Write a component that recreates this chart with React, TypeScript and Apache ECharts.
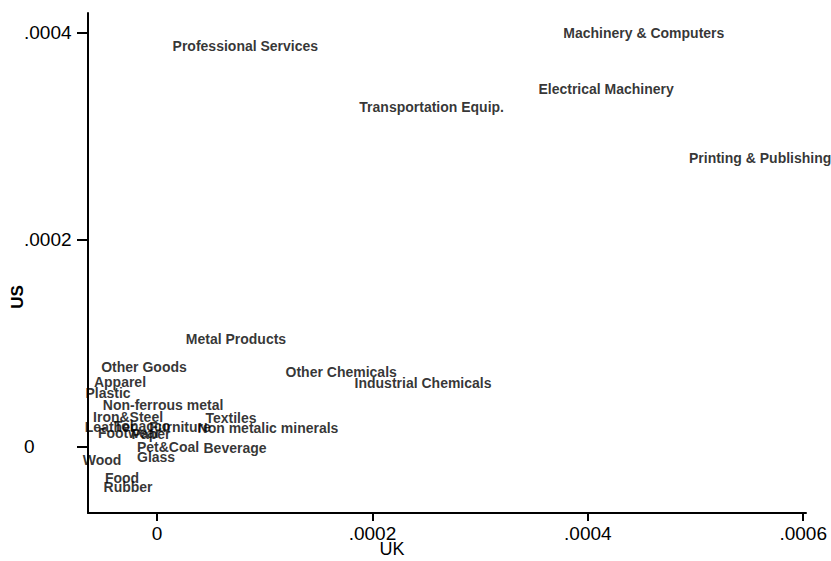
import React, { useEffect, useRef } from "react";
import * as echarts from "echarts";

const industries = [
  "Professional Services",
  "Machinery & Computers",
  "Electrical Machinery",
  "Transportation Equip.",
  "Printing & Publishing",
  "Metal Products",
  "Other Goods",
  "Other Chemicals",
  "Industrial Chemicals",
  "Apparel",
  "Plastic",
  "Non-ferrous metal",
  "Iron&Steel",
  "Textiles",
  "Leather",
  "Tobacco",
  "Furniture",
  "Non metalic minerals",
  "Footwear",
  "Paper",
  "Pet&Coal",
  "Beverage",
  "Glass",
  "Wood",
  "Food",
  "Rubber",
];

const ukValues = [
  0.000082, 0.000452, 0.000417, 0.000255, 0.00056, 0.0000733, -0.0000121,
  0.000171, 0.000247, -0.0000344, -0.0000455, 0.0000056, -0.0000269,
  0.0000687, -0.0000436, -0.0000139, 0.0000214, 0.000103, -0.000026,
  -0.0000056, 0.0000102, 0.0000724, -0.0000009, -0.0000511, -0.0000325,
  -0.0000269,
];

const usValues = [
  0.000387, 0.0004, 0.000346, 0.000328, 0.000279, 0.000104, 0.0000773,
  0.0000725, 0.0000618, 0.0000628, 0.0000522, 0.0000406, 0.000029, 0.000028,
  0.0000193, 0.0000203, 0.0000193, 0.0000184, 0.0000135, 0.0000126, 0.0,
  -0.000001, -0.0000097, -0.0000126, -0.00003, -0.0000386,
];

const xTicks = [0, 0.0002, 0.0004, 0.0006];
const yTicks = [0, 0.0002, 0.0004];

const FONT = "'Liberation Sans', Arial, Helvetica, sans-serif";

const fmt = (v: number) => (v === 0 ? "0" : v.toFixed(4).replace(/^0/, ""));

export default function App() {
  const ref = useRef<HTMLDivElement>(null);
  useEffect(() => {
    if (!ref.current) return;
    const chart = echarts.init(ref.current, undefined, { renderer: "svg" });
    const data = industries.map((n, i) => ({ name: n, value: [ukValues[i], usValues[i]] }));
    chart.setOption({
      animation: false,
      backgroundColor: "#ffffff",
      grid: {
        left: 88,
        right: 25,
        top: 13,
        bottom: 48,
        containLabel: false,
        outerBoundsMode: "none",
      },
      xAxis: {
        type: "value",
        min: -0.0000641,
        max: 0.0006026,
        name: "UK",
        nameLocation: "middle",
        nameGap: 27,
        nameMoveOverlap: false,
        nameTextStyle: { fontFamily: FONT, fontSize: 18, color: "#000", padding: [0, 110, 0, 0] },
        axisLine: { show: true, onZero: false, lineStyle: { color: "#000", width: 2 } },
        axisTick: { show: true, customValues: xTicks, length: 8, lineStyle: { color: "#000", width: 2 } },
        axisLabel: {
          customValues: xTicks,
          formatter: fmt,
          margin: 11,
          fontFamily: FONT,
          fontSize: 19,
          color: "#000",
        },
        splitLine: { show: false },
      },
      yAxis: {
        type: "value",
        min: -0.0000638,
        max: 0.0004193,
        name: "US",
        nameLocation: "middle",
        nameGap: 62,
        nameMoveOverlap: false,
        nameTextStyle: {
          fontFamily: FONT,
          fontSize: 17,
          color: "#000",
          fontWeight: "bold",
          padding: [0, 68, 0, 0],
        },
        axisLine: { show: true, onZero: false, lineStyle: { color: "#000", width: 2 } },
        axisTick: { show: true, customValues: yTicks, length: 11, lineStyle: { color: "#000", width: 2 } },
        axisLabel: {
          customValues: yTicks,
          formatter: fmt,
          margin: 64,
          align: "left",
          fontFamily: FONT,
          fontSize: 19,
          color: "#000",
        },
        splitLine: { show: false },
      },
      series: [
        {
          type: "scatter",
          data,
          symbolSize: 0,
          clip: false,
          label: {
            show: true,
            position: [0, 0],
            align: "center",
            verticalAlign: "middle",
            formatter: (p: any) => p.name,
            fontFamily: FONT,
            fontSize: 14,
            fontWeight: "bold",
            color: "#000000",
          },
          labelLayout: { hideOverlap: false },
        },
      ],
    });
    return () => chart.dispose();
  }, []);
  return (
    <div
      ref={ref}
      style={{ position: "absolute", left: 0, top: 0, width: 831, height: 561 }}
    />
  );
}
